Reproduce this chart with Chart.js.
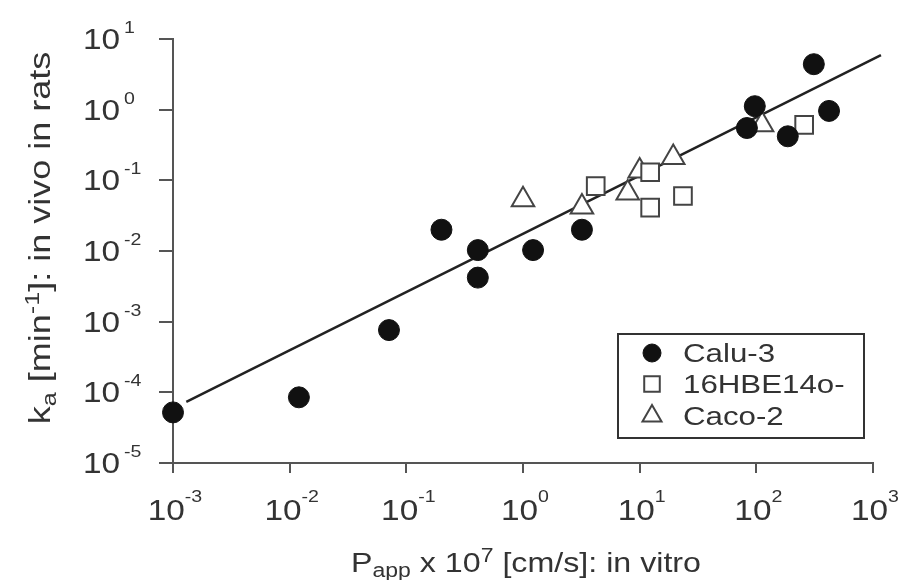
<!DOCTYPE html>
<html>
<head>
<meta charset="utf-8">
<script src="https://cdn.jsdelivr.net/npm/chart.js@4.4.1/dist/chart.umd.min.js"></script>
<style>
  html, body { margin: 0; padding: 0; background: #fff; }
  #wrap { width: 906px; height: 580px; }
</style>
</head>
<body>
<div id="wrap"><canvas id="chart" width="906" height="580"></canvas></div>
<script>
// Calu-3 (filled circles)
const caluX = [0.001, 0.012, 0.071, 0.20, 0.41, 0.41, 1.22, 3.2, 97, 83, 186, 311, 420];
const caluY = [5.2e-5, 8.5e-5, 7.6e-4, 0.020, 0.0103, 0.0042, 0.0103, 0.020, 1.12, 0.55, 0.42, 4.4, 0.96];
// 16HBE14o- (open squares)
const hbeX = [4.2, 12.3, 12.3, 23.5, 257];
const hbeY = [0.083, 0.13, 0.041, 0.060, 0.61];
// Caco-2 (open triangles)
const cacoX = [1.0, 3.2, 7.9, 10, 19.4, 112];
const cacoY = [0.053, 0.042, 0.066, 0.135, 0.21, 0.61];
// regression line, end points
const fitX = [0.0013, 1170];
const fitY = [7.3e-5, 5.9];

// axis decades (exponents of 10)
const xDecades = [-3, -2, -1, 0, 1, 2, 3];
const yDecades = [-5, -4, -3, -2, -1, 0, 1];

const FONT = '"Liberation Sans", Arial, Helvetica, sans-serif';
const TXT = '#333';

function toPts(xs, ys) {
    return xs.map((x, i) => ({x: x, y: ys[i]}));
}

// draws pieces of text [text, size, dy] one after another, stretched by sx
function drawRich(ctx, parts, x, y, align, sx) {
    let w = 0;
    parts.forEach(p => {
        ctx.font = p[1] + 'px ' + FONT;
        w += ctx.measureText(p[0]).width;
    });
    let start = x;
    if (align === 'center') start = x - w * sx / 2;
    if (align === 'right') start = x - w * sx;
    ctx.save();
    ctx.translate(start, y);
    ctx.scale(sx, 1);
    ctx.textAlign = 'left';
    ctx.textBaseline = 'alphabetic';
    let off = 0;
    parts.forEach(p => {
        ctx.font = p[1] + 'px ' + FONT;
        ctx.fillText(p[0], off, p[2]);
        off += ctx.measureText(p[0]).width;
    });
    ctx.restore();
}

const labelsPlugin = {
    id: 'labels',
    afterDraw(chart) {
        const ctx = chart.ctx;
        const xs = chart.scales.x, ys = chart.scales.y;
        ctx.save();
        ctx.fillStyle = TXT;

        // y tick labels
        yDecades.forEach(e => {
            const py = ys.getPixelForValue(Math.pow(10, e));
            drawRich(ctx, [['10', 29, 0]], 120, py + 10, 'right', 1.15);
            drawRich(ctx, [[String(e), 17, 0]], 124, py - 6, 'left', 1.15);
        });
        // x tick labels
        xDecades.forEach(e => {
            const px = xs.getPixelForValue(Math.pow(10, e));
            drawRich(ctx, [['10', 29, 0], [String(e), 17, -18]], px + 2, 520, 'center', 1.15);
        });

        // x title
        drawRich(ctx, [['P', 28, 0], ['app', 20, 5], [' x 10', 28, 0], ['7', 20, -10],
            [' [cm/s]: in vitro', 28, 0]], 526, 572, 'center', 1.15);

        // y title, rotated
        ctx.save();
        ctx.translate(50, 238);
        ctx.rotate(-Math.PI / 2);
        drawRich(ctx, [['k', 30, 0], ['a', 21, 6], [' [min', 30, 0], ['-1', 21, -11],
            [']: in vivo in rats', 30, 0]], 0, 0, 'center', 1.2);
        ctx.restore();

        // legend box
        const lx = 618, ly = 334, lw = 246, lh = 104;
        ctx.strokeStyle = '#333';
        ctx.lineWidth = 2;
        ctx.strokeRect(lx, ly, lw, lh);
        const rowsY = [353, 384, 416];
        chart.data.datasets.slice(0, 3).forEach((ds, i) => {
            const my = rowsY[i];
            ctx.save();
            ctx.fillStyle = ds.backgroundColor;
            ctx.strokeStyle = ds.borderColor;
            ctx.lineWidth = ds.borderWidth;
            Chart.helpers.drawPoint(ctx, {pointStyle: ds.pointStyle, radius: ds.pointStyle === 'circle' ? 9 : 11, borderWidth: ds.borderWidth}, 652, my);
            ctx.restore();
            ctx.fillStyle = TXT;
            drawRich(ctx, [[ds.label, 25, 0]], 683, my + 9, 'left', 1.25);
        });
        ctx.restore();
    }
};

const axisCommon = {
    type: 'logarithmic',
    ticks: {display: false},
    border: {display: true, color: '#555', width: 2}
};

new Chart(document.getElementById('chart'), {
    type: 'scatter',
    data: {
        datasets: [
            {
                label: 'Calu-3',
                data: toPts(caluX, caluY),
                pointStyle: 'circle',
                pointRadius: 10.5,
                backgroundColor: '#111',
                borderColor: '#111',
                borderWidth: 1,
                clip: false
            },
            {
                label: '16HBE14o-',
                data: toPts(hbeX, hbeY),
                pointStyle: 'rect',
                pointRadius: 12.5,
                backgroundColor: '#fff',
                borderColor: '#444',
                borderWidth: 2,
                clip: false
            },
            {
                label: 'Caco-2',
                data: toPts(cacoX, cacoY),
                pointStyle: 'triangle',
                pointRadius: 13,
                backgroundColor: '#fff',
                borderColor: '#444',
                borderWidth: 2,
                clip: false
            },
            {
                label: 'fit',
                type: 'line',
                data: toPts(fitX, fitY),
                borderColor: '#222',
                borderWidth: 2.5,
                pointRadius: 0,
                fill: false,
                clip: false
            }
        ]
    },
    options: {
        responsive: false,
        animation: false,
        events: [],
        layout: {padding: {left: 159, right: 33, top: 39, bottom: 107}},
        plugins: {
            legend: {display: false},
            tooltip: {enabled: false}
        },
        scales: {
            x: Object.assign({}, axisCommon, {
                min: 1e-3,
                max: 1e3,
                afterBuildTicks: s => { s.ticks = xDecades.map(e => ({value: Math.pow(10, e)})); },
                grid: {drawOnChartArea: false, drawTicks: true, tickLength: 10, color: '#555', lineWidth: 2}
            }),
            y: Object.assign({}, axisCommon, {
                min: 1e-5,
                max: 1e1,
                afterBuildTicks: s => { s.ticks = yDecades.map(e => ({value: Math.pow(10, e)})); },
                grid: {drawOnChartArea: false, drawTicks: true, tickLength: 14, color: '#555', lineWidth: 2}
            })
        }
    },
    plugins: [labelsPlugin]
});
</script>
</body>
</html>
